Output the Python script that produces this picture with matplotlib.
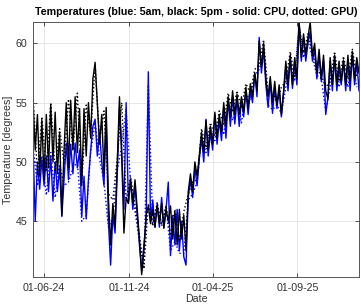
import numpy as np
import pandas as pd
import matplotlib
matplotlib.use("Agg")
import matplotlib.pyplot as plt
import matplotlib.dates as mdates

plt.rcParams['font.family'] = ['Liberation Sans', 'DejaVu Sans']

title = "Temperatures (blue: 5am, black: 5pm - solid: CPU, dotted: GPU)"
xlabel = "Date"
ylabel = "Temperature [degrees]"
start_date = "2024-05-12"
xtick_dates = ["2024-06-01", "2024-11-01", "2025-04-01", "2025-09-01"]
ytick_vals = [45, 50, 55, 60]

# 5pm CPU (black solid), every 4 days
pm_cpu = [55.2, 51.0, 54.0, 48.8, 53.5, 48.5, 54.0, 49.5, 54.8, 50.0,
          54.2, 49.0, 52.5, 45.5, 51.0, 55.0, 49.5, 55.2, 51.0, 55.5,
          50.8, 54.5, 48.0, 54.5, 50.5, 55.0, 52.0, 57.0, 58.4, 55.0,
          51.5, 54.0, 49.0, 54.6, 47.0, 43.0, 46.5, 44.5, 50.0, 55.5,
          50.5, 44.0, 47.0, 46.5, 48.5, 46.5, 48.5, 46.0, 43.5, 40.5,
          42.5, 45.5, 46.3, 44.8, 46.0, 44.5, 46.3, 44.8, 46.5, 44.4,
          46.0, 45.0, 46.3, 43.5, 45.8, 43.0, 46.0, 43.5, 45.5, 42.5,
          47.5, 49.0, 47.5, 50.0, 48.8, 50.5, 52.5, 50.8, 53.5, 51.0,
          53.0, 51.5, 54.2, 52.0, 54.0, 52.5, 55.0, 53.0, 55.5, 53.8,
          56.0, 54.0, 55.7, 54.0, 55.5, 54.2, 56.3, 54.5, 56.6, 55.5,
          57.5, 56.0, 60.2, 58.0, 60.0, 57.0, 55.5, 57.2, 55.0, 56.8,
          54.8, 56.5, 54.0, 56.0, 58.5, 56.5, 59.0, 56.5, 58.8, 57.0,
          61.8, 58.8, 60.8, 59.0, 60.5, 61.8, 59.0, 60.0, 57.5, 59.5,
          57.0, 59.0, 56.0, 55.3, 58.8, 56.5, 59.0, 56.5, 58.5, 56.8,
          58.6, 56.5, 59.0, 56.8, 59.3, 57.0, 58.8, 57.5]

# 5am CPU (blue solid), every 4 days
am_cpu = [51.6, 45.0, 50.0, 47.7, 50.2, 48.0, 50.5, 47.5, 50.5, 46.7,
          50.0, 47.5, 49.5, 45.4, 48.5, 51.6, 48.5, 51.5, 49.0, 51.6,
          49.5, 51.0, 45.4, 48.8, 45.2, 48.5, 51.0, 53.0, 53.6, 50.5,
          52.5, 50.0, 48.0, 53.6, 45.0, 41.3, 45.5, 44.0, 49.0, 54.6,
          51.0, 46.0, 55.0, 46.5, 48.5, 46.0, 48.0, 45.5, 43.0, 40.8,
          43.0, 45.0, 57.6, 45.0, 46.8, 44.5, 46.5, 44.5, 47.0, 44.5,
          46.0, 48.3, 42.1, 45.5, 43.0, 46.0, 42.5, 45.0, 42.0, 41.3,
          47.0, 48.5, 47.0, 49.5, 48.0, 50.3, 52.0, 50.0, 53.6, 50.5,
          52.5, 51.0, 54.0, 51.5, 53.5, 51.8, 54.6, 52.0, 55.2, 53.0,
          55.5, 53.2, 55.3, 53.0, 55.3, 53.8, 56.0, 54.0, 56.0, 55.0,
          57.5, 55.5, 60.5, 57.5, 59.5, 56.5, 54.6, 56.8, 54.1, 56.3,
          54.5, 56.2, 53.8, 55.8, 58.0, 56.0, 58.8, 56.2, 58.5, 56.5,
          61.8, 58.5, 60.5, 58.5, 60.0, 61.0, 58.5, 59.5, 57.0, 59.0,
          56.8, 58.5, 54.0, 55.5, 58.5, 56.0, 58.8, 56.0, 58.0, 56.5,
          58.5, 56.0, 58.5, 56.0, 59.0, 56.5, 58.5, 56.0]

# 5pm GPU (black dotted), every 8 days
pm_gpu = [55.6, 49.0, 53.8, 49.3, 55.0, 49.2, 52.8, 49.8, 55.3, 51.0,
          55.8, 48.3, 54.8, 52.3, 58.2, 51.8, 54.3, 47.3, 46.8, 50.3,
          55.0, 46.8, 48.8, 46.3, 43.8, 41.0, 46.5, 44.6, 46.6, 44.6,
          46.3, 43.8, 46.0, 43.3, 45.8, 47.3, 48.3, 48.5, 52.8, 51.2,
          53.3, 52.2, 54.3, 53.2, 55.8, 54.2, 56.0, 54.5, 56.6, 55.8,
          57.8, 58.2, 60.3, 55.8, 56.0, 55.0, 56.3, 56.8, 59.3, 57.2,
          61.5, 59.2, 60.8, 59.2, 57.8, 57.3, 56.3, 56.8, 59.3, 56.8,
          58.9, 57.0, 59.5, 57.2]

# 5am GPU (blue dotted), every 8 days
am_gpu = [51.3, 48.0, 50.5, 47.2, 50.8, 47.0, 49.8, 48.0, 48.3, 49.5,
          50.0, 45.0, 45.5, 50.8, 53.3, 50.3, 48.3, 44.5, 45.2, 49.3,
          51.3, 54.5, 48.2, 45.8, 43.3, 41.0, 56.5, 44.8, 46.3, 44.8,
          46.3, 42.5, 43.3, 42.3, 42.3, 46.8, 47.3, 48.3, 52.3, 50.8,
          52.8, 51.8, 53.8, 52.3, 55.0, 53.5, 55.0, 53.3, 55.8, 55.2,
          57.3, 57.8, 59.3, 54.8, 54.4, 54.8, 54.1, 56.3, 58.6, 56.8,
          61.5, 58.8, 60.2, 58.8, 57.3, 57.0, 54.3, 56.3, 58.6, 56.3,
          58.3, 56.3, 58.8, 56.3]

d_cpu = pd.date_range(start_date, periods=len(pm_cpu), freq="4D")
d_gpu = pd.date_range(start_date, periods=len(pm_gpu), freq="8D")

fig = plt.figure(figsize=(3.61, 3.07), dpi=100)
ax = fig.add_axes([33/361, 30/307, 326/361, 255/307])

ax.plot(d_cpu, am_cpu, color="blue", lw=1.0, ls="-")
ax.plot(d_gpu, am_gpu, color="blue", lw=1.0, ls=":")
ax.plot(d_cpu, pm_cpu, color="black", lw=1.0, ls="-")
ax.plot(d_gpu, pm_gpu, color="black", lw=1.0, ls=":")

ax.set_xlim(d_cpu[0], d_cpu[-1])
ax.set_ylim(40.3, 61.8)
ax.set_xticks(pd.to_datetime(xtick_dates))
ax.xaxis.set_major_formatter(mdates.DateFormatter("%d-%m-%y"))
ax.set_yticks(ytick_vals)

ax.grid(True, color="#e3e3e3", lw=0.6)
ax.set_axisbelow(True)
ax.tick_params(direction="in", length=3, width=0.6, labelsize=7.7,
               colors="#333333", top=True, right=True, pad=4)
for s in ax.spines.values():
    s.set_color("#555555")
    s.set_linewidth(0.7)

ax.set_title(title, fontsize=7.7, fontweight="bold", color="black", pad=5)
ax.set_xlabel(xlabel, fontsize=7.7, color="#333333", labelpad=1)
ax.set_ylabel(ylabel, fontsize=7.7, color="#333333", labelpad=2)

fig.savefig("out.png", dpi=100)
